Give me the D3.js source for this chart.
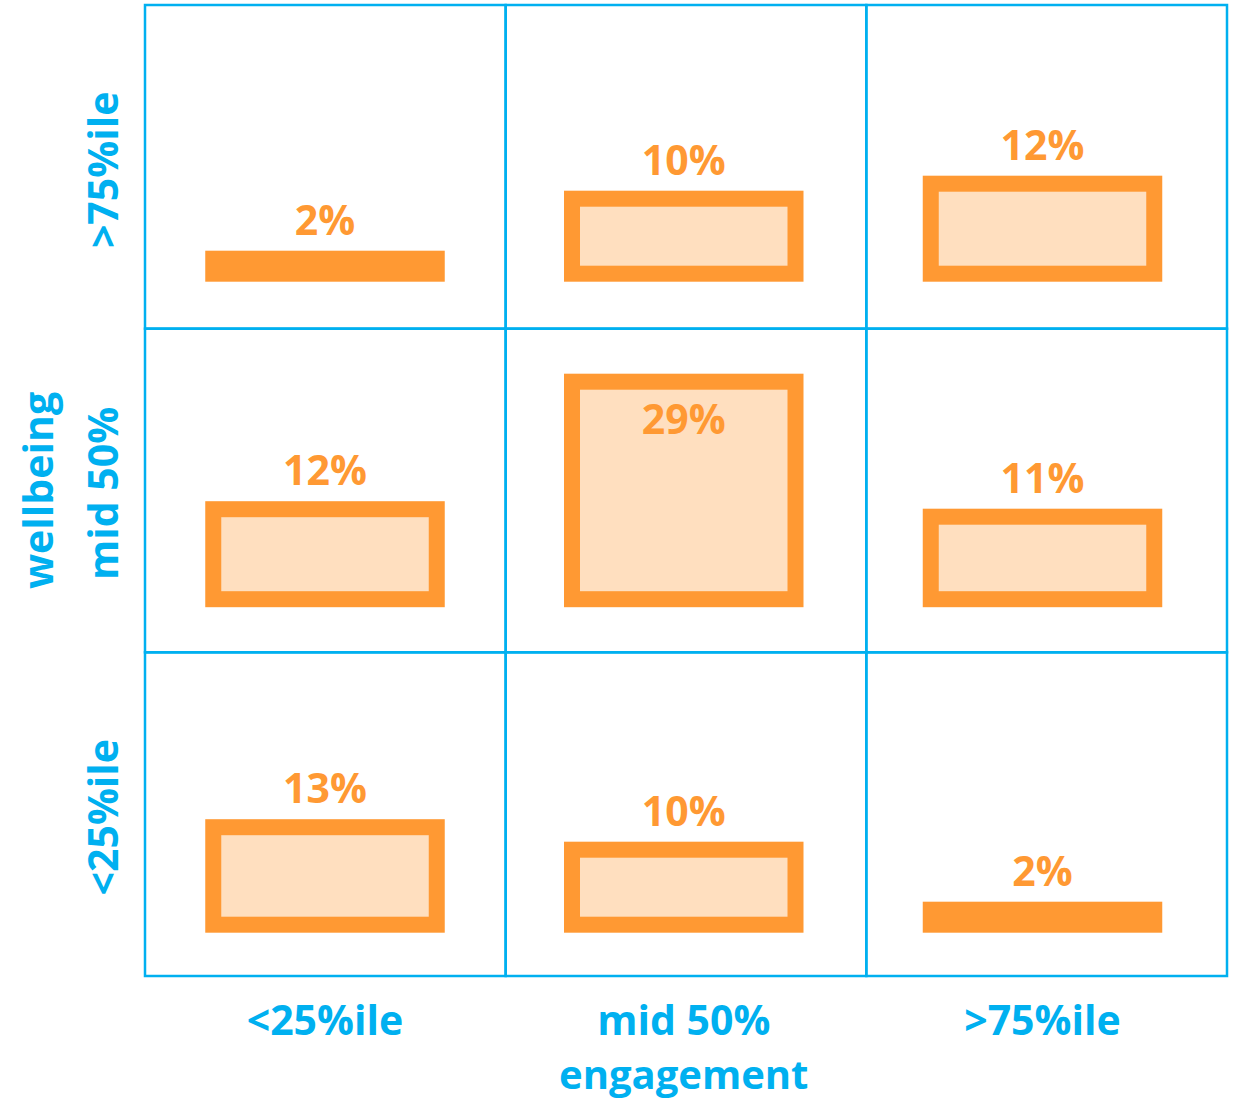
<!DOCTYPE html>
<html><head><meta charset="utf-8">
<script src="https://cdn.jsdelivr.net/npm/d3@7"></script>
<style>body{margin:0;background:#fff}svg{display:block}</style>
</head><body>
<svg id="chart" width="1237" height="1101"></svg>
<script>
const engagementLabels = ["<25%ile", "mid 50%", ">75%ile"];
const wellbeingLabels = [">75%ile", "mid 50%", "<25%ile"];
const rowHigh = [2, 10, 12];
const rowMid = [12, 29, 11];
const rowLow = [13, 10, 2];
const xTitle = "engagement";
const yTitle = "wellbeing";

const rows = [rowHigh, rowMid, rowLow];
const cells = [];
rows.forEach((r, i) => r.forEach((v, j) => cells.push({ w: wellbeingLabels[i], e: engagementLabels[j], v })));

const BLUE = "#00B0F0", ORANGE = "#FF9933", FILL = "#FFDFBF";
const FONT = "'Open Sans', sans-serif";

const svg = d3.select("#chart");
// grid cells
const x = d3.scaleBand().domain(engagementLabels).range([145, 1227]);
const y = d3.scaleBand().domain(wellbeingLabels).range([5, 976]);
// bar centers / baselines
const xc = d3.scalePoint().domain(engagementLabels).range([325, 1042.5]);
const yb = d3.scalePoint().domain(wellbeingLabels).range([273.7, 924.7]);
const h = d3.scaleLinear().domain([0, 100]).range([0, 750]);
const barW = 223.5;

// grid
svg.append("g").selectAll("rect").data(cells).join("rect")
  .attr("x", d => x(d.e)).attr("y", d => y(d.w))
  .attr("width", x.bandwidth()).attr("height", y.bandwidth())
  .attr("fill", "none").attr("stroke", BLUE).attr("stroke-width", 2.5);

// bars
svg.append("g").selectAll("rect").data(cells).join("rect")
  .attr("x", d => xc(d.e) - barW / 2)
  .attr("y", d => yb(d.w) - h(d.v))
  .attr("width", barW)
  .attr("height", d => h(d.v))
  .attr("fill", FILL).attr("stroke", ORANGE).attr("stroke-width", 16);

// value labels
svg.append("g").selectAll("text").data(cells).join("text")
  .attr("x", d => xc(d.e))
  .attr("y", d => {
    const top = yb(d.w) - h(d.v) - 8;
    return Math.max(top - 16, y(d.w) + 105);
  })
  .attr("text-anchor", "middle")
  .attr("font-family", FONT).attr("font-weight", 700).attr("font-size", 41)
  .attr("fill", ORANGE)
  .text(d => d.v + "%");

// x axis labels
svg.append("g").selectAll("text").data(engagementLabels).join("text")
  .attr("x", d => xc(d)).attr("y", 1035)
  .attr("text-anchor", "middle")
  .attr("font-family", FONT).attr("font-weight", 700).attr("font-size", 41)
  .attr("fill", BLUE).text(d => d);
svg.append("text")
  .attr("x", xc(engagementLabels[1])).attr("y", 1089)
  .attr("text-anchor", "middle")
  .attr("font-family", FONT).attr("font-weight", 700).attr("font-size", 40)
  .attr("fill", BLUE).text(xTitle);

// y axis labels
svg.append("g").selectAll("text").data(wellbeingLabels).join("text")
  .attr("transform", d => `translate(118,${y(d) + y.bandwidth() / 2 + 3}) rotate(-90)`)
  .attr("text-anchor", "middle")
  .attr("font-family", FONT).attr("font-weight", 700).attr("font-size", 41)
  .attr("fill", BLUE).text(d => d);
svg.append("text")
  .attr("transform", `translate(53,${y(wellbeingLabels[1]) + y.bandwidth() / 2}) rotate(-90)`)
  .attr("text-anchor", "middle")
  .attr("font-family", FONT).attr("font-weight", 700).attr("font-size", 41)
  .attr("fill", BLUE).text(yTitle);
</script>
</body></html>
